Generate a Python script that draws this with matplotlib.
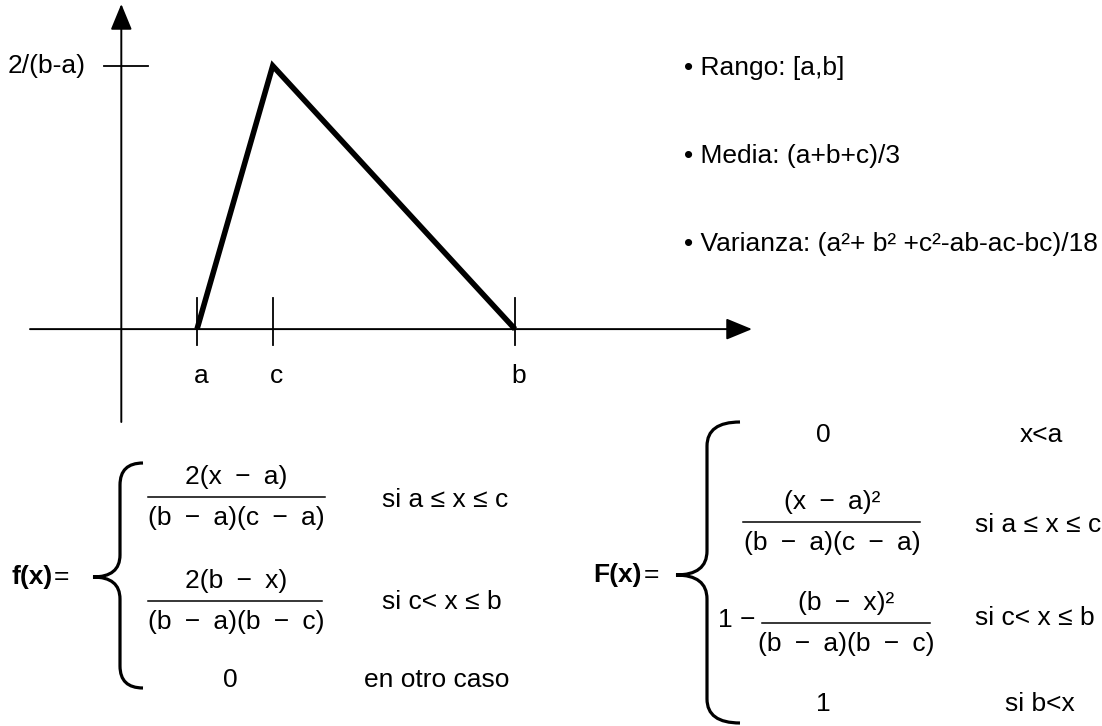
import matplotlib.pyplot as plt
from matplotlib.path import Path
from matplotlib.patches import PathPatch

plt.rcParams['font.family'] = ['Liberation Sans', 'DejaVu Sans']

# parametros de la distribucion triangular (unidades del dibujo)
a, c, b = 1.0, 2.0, 5.2
h = 2 / (b - a)

tri_x = [a, c, b]
tri_y = [0, h, 0]
tick_pos = [a, c, b]
tick_lbl = ['a', 'c', 'b']
peak_lbl = '2/(b-a)'

bullets = ['• Rango: [a,b]',
           '• Media: (a+b+c)/3',
           '• Varianza: (a²+ b² +c²-ab-ac-bc)/18']

S = '\u2002'  # espacio ancho alrededor del signo menos
M = S + '−' + S
f_num = ['2(x' + M + 'a)', '2(b' + M + 'x)']
f_den = ['(b' + M + 'a)(c' + M + 'a)', '(b' + M + 'a)(b' + M + 'c)']
f_cond = ['si a ≤ x ≤ c', 'si c< x ≤ b', 'en otro caso']

F_num = ['(x' + M + 'a)²', '(b' + M + 'x)²']
F_den = ['(b' + M + 'a)(c' + M + 'a)', '(b' + M + 'a)(b' + M + 'c)']
F_cond = ['x<a', 'si a ≤ x ≤ c', 'si c< x ≤ b', 'si b<x']

W, H = 1102, 726
FS = 19

fig = plt.figure(figsize=(W / 100, H / 100), dpi=100)


def px_axes(x0, y0, x1, y1):
    return fig.add_axes([x0 / W, 1 - y1 / H, (x1 - x0) / W, (y1 - y0) / H])


# --- grafico de la densidad ---
ax = px_axes(30, 4, 752, 422)
xmin, xmax = -1.206, 8.33
ymin, ymax = -0.168, 0.588
ax.set_xlim(xmin, xmax)
ax.set_ylim(ymin, ymax)
ax.set_axis_off()

arrow = dict(arrowstyle='-|>,head_length=0.8,head_width=0.33', mutation_scale=20,
             lw=1.4, color='black', shrinkA=0, shrinkB=0)
ax.annotate('', xy=(xmax, 0), xytext=(xmin, 0), arrowprops=arrow)
ax.annotate('', xy=(0, ymax), xytext=(0, ymin), arrowprops=arrow)

for xp, lb in zip(tick_pos, tick_lbl):
    ax.plot([xp, xp], [-0.029, 0.056], color='black', lw=1.3)
    ax.text(xp + 0.05, -0.085, lb, fontsize=FS, ha='center', va='center')

ax.plot([-0.23, 0.35], [h, h], color='black', lw=1.3)
ax.text(-0.47, h, peak_lbl, fontsize=FS, ha='right', va='center')

ax.plot(tri_x, tri_y, color='black', lw=4, solid_joinstyle='miter',
        solid_capstyle='butt')

# --- capa de texto en pixeles ---
ov = px_axes(0, 0, W, H)
ov.set_xlim(0, W)
ov.set_ylim(H, 0)
ov.set_axis_off()

for i, t in enumerate(bullets):
    ov.text(684, 68 + i * 88, t, fontsize=FS, ha='left', va='center')


def brace(x_end, x_v, x_tip, y_top, y_mid, y_bot, r=22):
    verts = [(x_end, y_top), (x_v, y_top), (x_v, y_top + r),
             (x_v, y_mid - r), (x_v, y_mid), (x_tip, y_mid),
             (x_v, y_mid), (x_v, y_mid + r),
             (x_v, y_bot - r), (x_v, y_bot), (x_end, y_bot)]
    codes = [Path.MOVETO, Path.CURVE3, Path.CURVE3,
             Path.LINETO, Path.CURVE3, Path.CURVE3,
             Path.CURVE3, Path.CURVE3,
             Path.LINETO, Path.CURVE3, Path.CURVE3]
    ov.add_patch(PathPatch(Path(verts, codes), fill=False, lw=2.3,
                           edgecolor='black', capstyle='butt'))


def frac(xc, y_bar, x0, x1, num, den):
    ov.plot([x0, x1], [y_bar, y_bar], color='black', lw=1.1)
    ov.text(xc, y_bar - 20, num, fontsize=FS, ha='center', va='center')
    ov.text(xc, y_bar + 21, den, fontsize=FS, ha='center', va='center')


# f(x)
ov.text(11, 577, 'f(x)', fontsize=FS, fontweight='bold', ha='left', va='center')
ov.text(54, 577, '=', fontsize=FS, ha='left', va='center')
brace(143, 120, 93, 463, 577, 688)
frac(236, 497, 148, 325, f_num[0], f_den[0])
frac(236, 601, 148, 322, f_num[1], f_den[1])
ov.text(382, 500, f_cond[0], fontsize=FS, ha='left', va='center')
ov.text(382, 602, f_cond[1], fontsize=FS, ha='left', va='center')
ov.text(230, 680, '0', fontsize=FS, ha='center', va='center')
ov.text(364, 680, f_cond[2], fontsize=FS, ha='left', va='center')

# F(x)
ov.text(593, 575, 'F(x)', fontsize=FS, fontweight='bold', ha='left', va='center')
ov.text(644, 575, '=', fontsize=FS, ha='left', va='center')
brace(740, 707, 676, 422, 575, 723, r=24)
ov.text(823, 435, '0', fontsize=FS, ha='center', va='center')
ov.text(1020, 435, F_cond[0], fontsize=FS, ha='left', va='center')
frac(832, 522, 743, 920, F_num[0], F_den[0])
ov.text(975, 525, F_cond[1], fontsize=FS, ha='left', va='center')
ov.text(718, 620, '1 −', fontsize=FS, ha='left', va='center')
frac(846, 623, 762, 930, F_num[1], F_den[1])
ov.text(975, 618, F_cond[2], fontsize=FS, ha='left', va='center')
ov.text(823, 704, '1', fontsize=FS, ha='center', va='center')
ov.text(1005, 704, F_cond[3], fontsize=FS, ha='left', va='center')

fig.savefig('out.png', dpi=100)
